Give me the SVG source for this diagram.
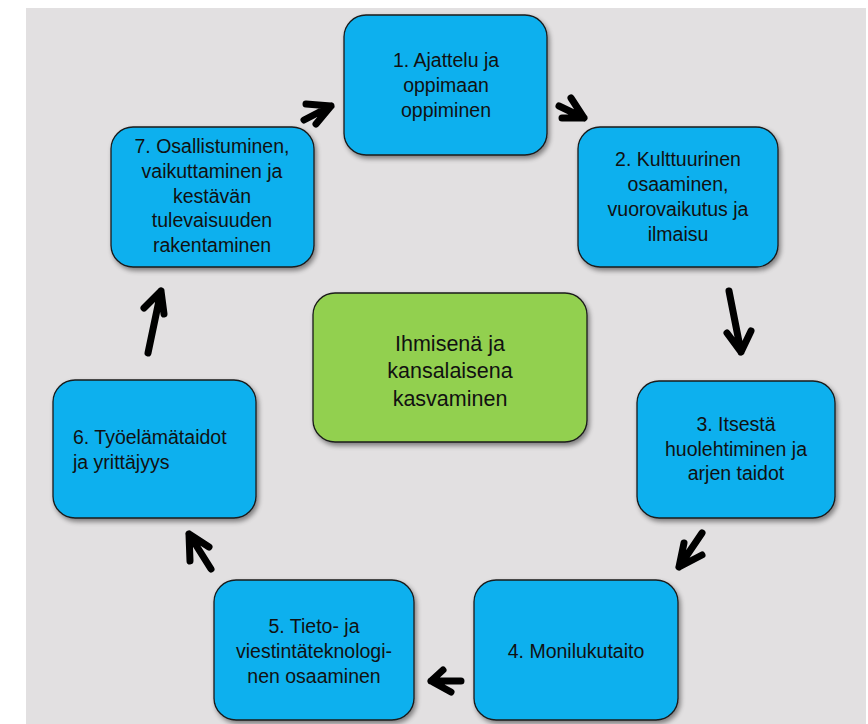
<svg xmlns="http://www.w3.org/2000/svg" width="868" height="724" viewBox="0 0 868 724">
<defs>
<filter id="sh" x="-10%" y="-10%" width="130%" height="130%">
<feGaussianBlur in="SourceAlpha" stdDeviation="2.5"/>
<feOffset dx="2" dy="3" result="b"/>
<feComponentTransfer><feFuncA type="linear" slope="0.45"/></feComponentTransfer>
<feMerge><feMergeNode/><feMergeNode in="SourceGraphic"/></feMerge>
</filter>
</defs>
<style>
.box{fill:#0ab0ee;stroke:#1a1a1a;stroke-width:1.3;filter:url(#sh)}
.green{fill:#92d050;stroke:#1a1a1a;stroke-width:1.3;filter:url(#sh)}
text{font-family:"Liberation Sans",Arial,sans-serif;font-size:19.5px;fill:#111;text-anchor:middle}
.big{font-size:21.5px}
.arr{fill:none;stroke:#000;stroke-width:7;stroke-linecap:round;stroke-linejoin:round}
</style>
<rect x="26" y="8" width="840" height="716" fill="#e2e0e1"/>
<g id="node1"><rect class="box" x="344" y="15" width="203" height="140" rx="22"/>
<text x="446" y="67">1. Ajattelu ja</text><text x="446" y="92">oppimaan</text><text x="446" y="117">oppiminen</text></g>
<g id="node2"><rect class="box" x="578" y="127" width="200" height="140" rx="22"/>
<text x="678" y="166">2. Kulttuurinen</text><text x="678" y="191">osaaminen,</text><text x="678" y="216">vuorovaikutus ja</text><text x="678" y="241">ilmaisu</text></g>
<g id="node3"><rect class="box" x="637" y="381" width="198" height="137" rx="22"/>
<text x="736" y="431">3. Itsestä</text><text x="736" y="456">huolehtiminen ja</text><text x="736" y="480">arjen taidot</text></g>
<g id="node4"><rect class="box" x="474" y="580" width="204" height="140" rx="22"/>
<text x="576" y="658">4. Monilukutaito</text></g>
<g id="node5"><rect class="box" x="214" y="580" width="200" height="140" rx="22"/>
<text x="314" y="633">5. Tieto- ja</text><text x="314" y="658">viestintäteknologi-</text><text x="314" y="683">nen osaaminen</text></g>
<g id="node6"><rect class="box" x="53" y="380" width="203" height="138" rx="22"/>
<text x="73" y="444" style="text-anchor:start">6. Työelämätaidot</text><text x="73" y="469" style="text-anchor:start">ja yrittäjyys</text></g>
<g id="node7"><rect class="box" x="111" y="127" width="203" height="140" rx="22"/>
<text x="212" y="153">7. Osallistuminen,</text><text x="212" y="178">vaikuttaminen ja</text><text x="212" y="203">kestävän</text><text x="212" y="227">tulevaisuuden</text><text x="212" y="252">rakentaminen</text></g>
<g id="center"><rect class="green" x="313" y="293" width="274" height="149" rx="22"/>
<text class="big" x="450" y="351">Ihmisenä ja</text><text class="big" x="450" y="378">kansalaisena</text><text class="big" x="450" y="406">kasvaminen</text></g>
<g id="connectors">
<path class="arr" d="M304,120 L331,106 M306,104 L331,106 L316,124"/>
<path class="arr" d="M559,106 L584,118 M571,98 L584,118 L562,118"/>
<path class="arr" d="M729,291 L741,352 M727,333 L741,352 L751,331"/>
<path class="arr" d="M702,533 L679,567 M684,543 L679,567 L702,555"/>
<path class="arr" d="M461,681 L431,681 M443,670 L431,681 L451,692"/>
<path class="arr" d="M211,569 L189,534 M190,561 L189,534 L209,547"/>
<path class="arr" d="M148,353 L161,291 M144,308 L161,291 L164,314"/>
</g>
</svg>
